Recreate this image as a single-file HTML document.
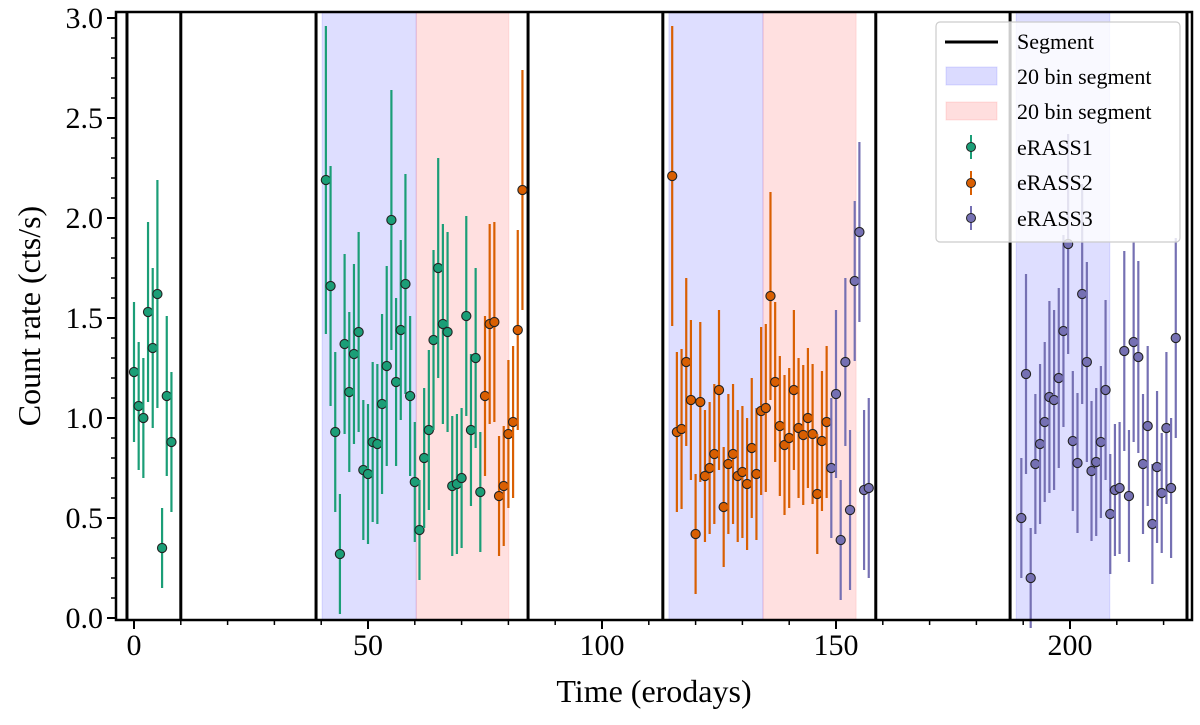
<!DOCTYPE html>
<html><head><meta charset="utf-8"><style>
body{margin:0;background:#fff}
svg text{font-family:"Liberation Serif",serif;fill:#000}
</style></head><body>
<svg id="chart" width="1200" height="720" xmlns="http://www.w3.org/2000/svg">
<g id="spans"></g>
<g id="seglines"></g>
<g id="pts"></g>
<g id="axes"></g>
<text x="654" y="702" font-size="32" text-anchor="middle">Time (erodays)</text>
<text transform="translate(40,316) rotate(-90)" font-size="32" text-anchor="middle">Count rate (cts/s)</text>
<g>
<rect x="936" y="22" width="244" height="220" rx="4" fill="rgba(255,255,255,0.8)" stroke="#ccc" stroke-width="1.2"/>
<g><line x1="945" y1="42" x2="998" y2="42" stroke="#000" stroke-width="3"/><text x="1017" y="49" font-size="22">Segment</text></g>
<g><rect x="946" y="67" width="51" height="18" fill="rgba(0,0,255,0.14)" stroke="rgba(0,0,255,0.12)"/><text x="1017" y="84" font-size="22">20 bin segment</text></g>
<g><rect x="946" y="102" width="51" height="18" fill="rgba(255,0,0,0.13)" stroke="rgba(255,0,0,0.1)"/><text x="1017" y="119" font-size="22">20 bin segment</text></g>
<g><line x1="971" y1="135" x2="971" y2="159" stroke="#1b9e77" stroke-width="2"/><circle cx="971" cy="147" r="4.5" fill="#1b9e77" stroke="#222"/><text x="1017" y="155" font-size="22">eRASS1</text></g>
<g><line x1="971" y1="171" x2="971" y2="195" stroke="#d95f02" stroke-width="2"/><circle cx="971" cy="183" r="4.5" fill="#d95f02" stroke="#222"/><text x="1017" y="190" font-size="22">eRASS2</text></g>
<g><line x1="971" y1="206" x2="971" y2="230" stroke="#7570b3" stroke-width="2"/><circle cx="971" cy="218" r="4.5" fill="#7570b3" stroke="#222"/><text x="1017" y="226" font-size="22">eRASS3</text></g>
</g>
</svg>
<script>
const xTicks=[0,50,100,150,200];
const yTicks=[0,0.5,1.0,1.5,2.0,2.5,3.0];
const segLines=[-1.5,10,38.9,84.2,113,158.5,187.2,225];
const blueSpans=[[40.2,60.3],[114.3,134.4],[188.5,208.5]];
const redSpans=[[60.3,80.1],[134.4,154.3]];
const e1Start=[0,41];
const e1a=[1.23,1.06,1.00,1.53,1.35,1.62,0.35,1.11,0.88];
const e1aErr=[0.35,0.32,0.3,0.45,0.4,0.57,0.2,0.4,0.35];
const e1b=[2.19,1.66,0.93,0.32,1.37,1.13,1.32,1.43,0.74,0.72,0.88,0.87,1.07,1.26,1.99,1.18,1.44,1.67,1.11,0.68,0.44,0.80,0.94,1.39,1.75,1.47,1.43,0.66,0.67,0.70,1.51,0.94,1.30,0.63];
const e1bErr=[0.77,0.6,0.4,0.3,0.45,0.4,0.45,0.5,0.35,0.35,0.4,0.4,0.45,0.5,0.65,0.42,0.45,0.55,0.4,0.3,0.25,0.35,0.4,0.45,0.55,0.5,0.5,0.35,0.35,0.35,0.5,0.38,0.45,0.3];
const e2aStart=75;
const e2a=[1.11,1.47,1.48,0.61,0.66,0.92,0.98,1.44,2.14];
const e2aErr=[0.4,0.5,0.5,0.3,0.3,0.37,0.38,0.5,0.6];
const e2bStart=115;
const e2b=[2.21,0.93,0.945,1.28,1.09,0.42,1.08,0.71,0.75,0.82,1.14,0.555,0.77,0.82,0.71,0.73,0.67,0.85,0.72,1.035,1.05,1.61,1.18,0.96,0.865,0.90,1.14,0.95,0.915,1.00,0.92,0.62,0.885,0.98];
const e2bErr=[0.75,0.4,0.4,0.42,0.4,0.3,0.4,0.33,0.33,0.35,0.4,0.3,0.35,0.35,0.33,0.33,0.33,0.35,0.33,0.42,0.42,0.52,0.4,0.35,0.35,0.35,0.4,0.35,0.35,0.35,0.35,0.3,0.35,0.38];
const e3aStart=149;
const e3a=[0.75,1.12,0.39,1.28,0.54,1.685,1.93,0.64,0.65];
const e3aErr=[0.35,0.42,0.3,0.42,0.4,0.4,0.45,0.4,0.45];
const e3bStart=189.6;
const e3b=[0.50,1.22,0.20,0.77,0.87,0.98,1.105,1.09,1.20,1.435,1.87,0.885,0.775,1.62,1.28,0.735,0.78,0.88,1.14,0.52,0.64,0.65,1.335,0.61,1.38,1.305,0.77,0.96,0.47,0.755,0.625,0.95,0.65,1.40];
const e3bErr=[0.3,0.5,0.25,0.35,0.4,0.4,0.48,0.45,0.45,0.48,0.55,0.35,0.35,0.55,0.5,0.35,0.37,0.38,0.45,0.3,0.33,0.33,0.5,0.33,0.5,0.48,0.35,0.4,0.3,0.38,0.3,0.38,0.35,0.5];

const NS="http://www.w3.org/2000/svg";
const X0=116,X1=1192,Y0=620,Y1=12;
const xs=v=>134+v*4.68;
const ys=v=>618-v*200;
function mk(p,t,a){const e=document.createElementNS(NS,t);for(const k in a)e.setAttribute(k,a[k]);p.appendChild(e);return e;}
const spans=document.getElementById('spans');
blueSpans.forEach(s=>{const r=mk(spans,'rect',{x:xs(s[0]),y:Y1,width:xs(s[1])-xs(s[0]),height:Y0-Y1,fill:'rgba(0,0,255,0.13)',stroke:'rgba(0,0,255,0.12)'});

});
redSpans.forEach(s=>{const r=mk(spans,'rect',{x:xs(s[0]),y:Y1,width:xs(s[1])-xs(s[0]),height:Y0-Y1,fill:'rgba(255,0,0,0.12)',stroke:'rgba(255,0,0,0.1)'});

});
const sl=document.getElementById('seglines');
segLines.forEach(v=>{const l=mk(sl,'line',{x1:xs(v),x2:xs(v),y1:Y1,y2:Y0,stroke:'#000','stroke-width':3});

});
const pts=document.getElementById('pts');
function series(start,vals,errs,col,name){vals.forEach((v,i)=>{const x=xs(start+i);
const g=mk(pts,'g',{});


mk(g,'line',{x1:x,x2:x,y1:ys(v-errs[i]),y2:ys(v+errs[i]),stroke:col,'stroke-width':2.2});
mk(g,'circle',{cx:x,cy:ys(v),r:4.6,fill:col,stroke:'#222','stroke-width':1.1});});}
series(e1Start[0],e1a,e1aErr,'#1b9e77','erass1');
series(e1Start[1],e1b,e1bErr,'#1b9e77','erass1');
series(e2aStart,e2a,e2aErr,'#d95f02','erass2');
series(e2bStart,e2b,e2bErr,'#d95f02','erass2');
series(e3aStart,e3a,e3aErr,'#7570b3','erass3');
series(e3bStart,e3b,e3bErr,'#7570b3','erass3');
const ax=document.getElementById('axes');
const fr=mk(ax,'rect',{x:X0,y:Y1,width:X1-X0,height:Y0-Y1,fill:'none',stroke:'#000','stroke-width':2.5});


for(let v=-0;v<=225;v+=10){const x=xs(v);mk(ax,'line',{x1:x,x2:x,y1:Y0,y2:Y0+5,stroke:'#000','stroke-width':1.5});}
xTicks.forEach(v=>{const x=xs(v);mk(ax,'line',{x1:x,x2:x,y1:Y0,y2:Y0+9,stroke:'#000','stroke-width':2});
const t=mk(ax,'text',{x:x,y:655,'font-size':30,'text-anchor':'middle'});t.textContent=v;

});
for(let i=0;i<=30;i++){const y=ys(i/10);mk(ax,'line',{x1:X0-5,x2:X0,y1:y,y2:y,stroke:'#000','stroke-width':1.5});}
yTicks.forEach(v=>{const y=ys(v);mk(ax,'line',{x1:X0-9,x2:X0,y1:y,y2:y,stroke:'#000','stroke-width':2});
const t=mk(ax,'text',{x:X0-13,y:y+10,'font-size':30,'text-anchor':'end'});t.textContent=v.toFixed(1);

});
</script>
</body></html>
